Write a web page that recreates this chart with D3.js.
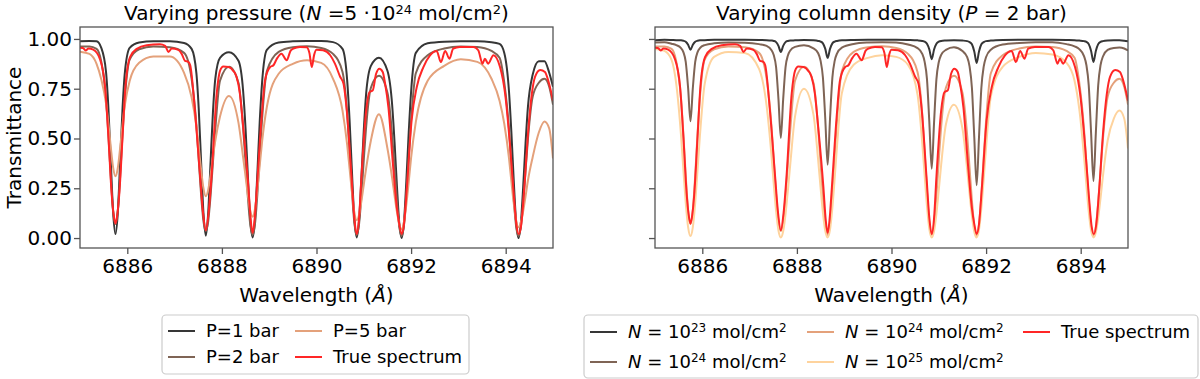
<!DOCTYPE html>
<html>
<head>
<meta charset="utf-8">
<script src="https://cdn.jsdelivr.net/npm/d3@7"></script>
<style>
  body { margin: 0; background: #fff; }
  svg text { font-family: "DejaVu Sans", sans-serif; fill: #000; white-space: pre; }
</style>
</head>
<body>
<svg id="fig" width="1200" height="379"></svg>
<script>
// wavelength grid (Angstrom) shared by the model curves
const wl = [6885.00, 6885.20, 6885.35, 6885.45, 6885.55, 6885.60, 6885.65, 6885.70, 6885.75, 6885.80,
  6885.85, 6885.90, 6885.95, 6886.05, 6886.25, 6886.55, 6886.90, 6887.20, 6887.36, 6887.46,
  6887.51, 6887.56, 6887.61, 6887.66, 6887.71, 6887.76, 6887.81, 6887.86, 6887.96, 6888.15,
  6888.35, 6888.45, 6888.50, 6888.55, 6888.60, 6888.65, 6888.70, 6888.75, 6888.80, 6888.85,
  6888.95, 6889.20, 6889.50, 6889.80, 6890.10, 6890.35, 6890.55, 6890.65, 6890.70, 6890.75,
  6890.80, 6890.85, 6890.90, 6890.95, 6891.00, 6891.05, 6891.15, 6891.32, 6891.50, 6891.60,
  6891.65, 6891.70, 6891.75, 6891.80, 6891.85, 6891.90, 6891.95, 6892.00, 6892.10, 6892.35,
  6892.70, 6893.05, 6893.40, 6893.70, 6893.87, 6893.97, 6894.07, 6894.12, 6894.17, 6894.22,
  6894.27, 6894.32, 6894.37, 6894.42, 6894.47, 6894.57, 6894.70, 6894.82, 6894.92, 6895.00];

// P = 1 bar (N = 5e24)
const tP1 = [0.988, 0.990, 0.988, 0.955, 0.835, 0.655, 0.390, 0.130, 0.020, 0.130,
  0.390, 0.655, 0.835, 0.955, 0.982, 0.988, 0.988, 0.980, 0.950, 0.830,
  0.650, 0.385, 0.125, 0.012, 0.125, 0.380, 0.630, 0.800, 0.905, 0.933,
  0.890, 0.735, 0.550, 0.307, 0.090, 0.003, 0.095, 0.328, 0.586, 0.783,
  0.945, 0.982, 0.988, 0.990, 0.990, 0.984, 0.950, 0.787, 0.589, 0.330,
  0.098, 0.003, 0.090, 0.304, 0.544, 0.727, 0.865, 0.906, 0.840, 0.667,
  0.482, 0.262, 0.075, 0.000, 0.082, 0.289, 0.532, 0.735, 0.930, 0.978,
  0.986, 0.988, 0.988, 0.984, 0.975, 0.930, 0.735, 0.532, 0.289, 0.082,
  0.000, 0.074, 0.259, 0.477, 0.659, 0.820, 0.888, 0.888, 0.830, 0.760];

// P = 2 bar, N = 5e24 (same curve in both panels)
const tP2 = [0.962, 0.962, 0.950, 0.886, 0.700, 0.521, 0.312, 0.138, 0.070, 0.139,
  0.314, 0.526, 0.708, 0.896, 0.948, 0.962, 0.958, 0.930, 0.800, 0.569,
  0.396, 0.219, 0.085, 0.035, 0.083, 0.211, 0.379, 0.544, 0.790, 0.860,
  0.780, 0.549, 0.379, 0.203, 0.067, 0.015, 0.072, 0.221, 0.414, 0.600,
  0.838, 0.935, 0.958, 0.963, 0.955, 0.925, 0.834, 0.621, 0.437, 0.236,
  0.077, 0.015, 0.071, 0.214, 0.394, 0.560, 0.755, 0.815, 0.730, 0.515,
  0.354, 0.188, 0.059, 0.010, 0.066, 0.215, 0.407, 0.591, 0.828, 0.918,
  0.952, 0.962, 0.960, 0.940, 0.905, 0.780, 0.547, 0.373, 0.195, 0.060,
  0.010, 0.056, 0.178, 0.339, 0.497, 0.709, 0.780, 0.800, 0.760, 0.670];

// P = 5 bar
const tP5 = [0.936, 0.925, 0.875, 0.797, 0.676, 0.577, 0.459, 0.355, 0.310, 0.353,
  0.456, 0.572, 0.670, 0.789, 0.880, 0.912, 0.912, 0.830, 0.706, 0.562,
  0.458, 0.344, 0.250, 0.210, 0.242, 0.316, 0.406, 0.488, 0.610, 0.714,
  0.580, 0.403, 0.310, 0.216, 0.138, 0.107, 0.147, 0.246, 0.365, 0.484,
  0.658, 0.825, 0.875, 0.893, 0.880, 0.800, 0.640, 0.465, 0.347, 0.228,
  0.130, 0.090, 0.117, 0.186, 0.269, 0.351, 0.490, 0.622, 0.450, 0.300,
  0.214, 0.133, 0.071, 0.044, 0.082, 0.169, 0.282, 0.403, 0.583, 0.790,
  0.865, 0.898, 0.885, 0.800, 0.690, 0.574, 0.400, 0.284, 0.175, 0.090,
  0.054, 0.079, 0.136, 0.210, 0.289, 0.406, 0.530, 0.585, 0.550, 0.400];

// N = 1e23 (P = 2 bar)
const tN23 = [0.994, 0.996, 0.995, 0.994, 0.993, 0.991, 0.986, 0.971, 0.946, 0.971,
  0.986, 0.991, 0.993, 0.994, 0.996, 0.996, 0.996, 0.995, 0.994, 0.992,
  0.990, 0.984, 0.965, 0.935, 0.965, 0.984, 0.990, 0.992, 0.993, 0.995,
  0.993, 0.990, 0.987, 0.978, 0.950, 0.905, 0.950, 0.978, 0.987, 0.990,
  0.993, 0.995, 0.996, 0.996, 0.996, 0.995, 0.993, 0.990, 0.986, 0.976,
  0.947, 0.898, 0.947, 0.976, 0.986, 0.990, 0.992, 0.994, 0.992, 0.989,
  0.984, 0.973, 0.937, 0.879, 0.937, 0.973, 0.984, 0.989, 0.992, 0.995,
  0.996, 0.996, 0.996, 0.995, 0.994, 0.992, 0.989, 0.985, 0.974, 0.940,
  0.884, 0.940, 0.974, 0.985, 0.989, 0.992, 0.993, 0.993, 0.991, 0.988];

// N = 1e24 (P = 2 bar)
const tN24 = [0.982, 0.984, 0.976, 0.969, 0.954, 0.934, 0.885, 0.754, 0.586, 0.754,
  0.885, 0.934, 0.954, 0.969, 0.978, 0.982, 0.981, 0.974, 0.965, 0.945,
  0.919, 0.859, 0.698, 0.503, 0.698, 0.859, 0.917, 0.942, 0.960, 0.968,
  0.953, 0.928, 0.891, 0.806, 0.598, 0.368, 0.598, 0.806, 0.891, 0.928,
  0.956, 0.975, 0.982, 0.984, 0.982, 0.972, 0.954, 0.925, 0.886, 0.798,
  0.581, 0.348, 0.581, 0.798, 0.884, 0.920, 0.945, 0.958, 0.939, 0.909,
  0.862, 0.755, 0.507, 0.265, 0.507, 0.755, 0.862, 0.909, 0.946, 0.972,
  0.980, 0.984, 0.984, 0.974, 0.963, 0.949, 0.914, 0.869, 0.767, 0.527,
  0.286, 0.527, 0.767, 0.869, 0.912, 0.945, 0.955, 0.957, 0.952, 0.942];

// N = 1e25 (P = 2 bar)
const tN25 = [0.950, 0.940, 0.895, 0.773, 0.515, 0.343, 0.177, 0.055, 0.010, 0.055,
  0.177, 0.343, 0.515, 0.773, 0.910, 0.935, 0.930, 0.850, 0.664, 0.421,
  0.273, 0.136, 0.038, 0.003, 0.034, 0.120, 0.241, 0.371, 0.610, 0.750,
  0.620, 0.390, 0.254, 0.128, 0.036, 0.003, 0.042, 0.153, 0.304, 0.468,
  0.727, 0.870, 0.905, 0.918, 0.910, 0.870, 0.721, 0.478, 0.317, 0.160,
  0.045, 0.003, 0.035, 0.123, 0.243, 0.368, 0.570, 0.670, 0.550, 0.343,
  0.224, 0.113, 0.032, 0.003, 0.042, 0.150, 0.298, 0.457, 0.711, 0.860,
  0.910, 0.930, 0.922, 0.880, 0.790, 0.648, 0.410, 0.267, 0.132, 0.037,
  0.003, 0.029, 0.101, 0.202, 0.311, 0.490, 0.600, 0.640, 0.600, 0.450];

// true (observed) spectrum, own sampling
const trueWl = [6885.00, 6885.06, 6885.12, 6885.18, 6885.28, 6885.42, 6885.53, 6885.60, 6885.67, 6885.71,
  6885.75, 6885.79, 6885.83, 6885.90, 6885.96, 6886.06, 6886.20, 6886.41, 6886.69, 6886.80,
  6886.87, 6886.94, 6887.08, 6887.15, 6887.22, 6887.29, 6887.33, 6887.43, 6887.54, 6887.60,
  6887.66, 6887.72, 6887.78, 6887.89, 6887.96, 6888.03, 6888.14, 6888.24, 6888.31, 6888.38,
  6888.45, 6888.56, 6888.61, 6888.65, 6888.69, 6888.74, 6888.84, 6888.91, 6889.02, 6889.09,
  6889.16, 6889.26, 6889.37, 6889.45, 6889.51, 6889.65, 6889.79, 6889.85, 6889.90, 6889.95,
  6890.00, 6890.14, 6890.29, 6890.39, 6890.50, 6890.57, 6890.64, 6890.74, 6890.80, 6890.85,
  6890.90, 6890.95, 6891.05, 6891.12, 6891.19, 6891.26, 6891.33, 6891.40, 6891.45, 6891.52,
  6891.62, 6891.70, 6891.75, 6891.80, 6891.85, 6891.91, 6892.01, 6892.12, 6892.26, 6892.40,
  6892.54, 6892.63, 6892.72, 6892.81, 6892.89, 6893.03, 6893.32, 6893.42, 6893.51, 6893.56,
  6893.63, 6893.74, 6893.88, 6893.99, 6894.09, 6894.17, 6894.23, 6894.28, 6894.33, 6894.39,
  6894.47, 6894.55, 6894.62, 6894.73, 6894.83, 6894.90, 6895.00];
const trueT = [0.956, 0.955, 0.942, 0.952, 0.946, 0.900, 0.760, 0.510, 0.220, 0.120,
  0.072, 0.120, 0.220, 0.510, 0.760, 0.910, 0.950, 0.968, 0.973, 0.965,
  0.935, 0.952, 0.945, 0.925, 0.890, 0.885, 0.868, 0.640, 0.307, 0.130,
  0.039, 0.130, 0.307, 0.725, 0.840, 0.862, 0.859, 0.840, 0.810, 0.725,
  0.558, 0.256, 0.090, 0.025, 0.090, 0.256, 0.608, 0.790, 0.859, 0.868,
  0.900, 0.926, 0.893, 0.940, 0.951, 0.960, 0.958, 0.930, 0.859, 0.920,
  0.946, 0.943, 0.918, 0.876, 0.810, 0.776, 0.641, 0.307, 0.100, 0.020,
  0.100, 0.307, 0.640, 0.733, 0.742, 0.825, 0.850, 0.834, 0.776, 0.658,
  0.360, 0.150, 0.070, 0.020, 0.070, 0.250, 0.590, 0.759, 0.859, 0.918,
  0.940, 0.884, 0.940, 0.901, 0.951, 0.960, 0.960, 0.943, 0.876, 0.900,
  0.876, 0.918, 0.859, 0.720, 0.470, 0.220, 0.060, 0.020, 0.070, 0.240,
  0.520, 0.720, 0.810, 0.844, 0.834, 0.790, 0.690];

const xTicks = [6886, 6888, 6890, 6892, 6894];
const yTicks = [0, 0.25, 0.5, 0.75, 1.0];

const col = { p1: '#363636', p2: '#7f6455', p5: '#e4a17b', n25: '#fed39d', tru: '#ff2626' };

const leftSeries = [
  { y: tP1, c: col.p1 }, { y: tP2, c: col.p2 }, { y: tP5, c: col.p5 }];
const rightSeries = [
  { y: tN23, c: col.p1 }, { y: tN24, c: col.p2 }, { y: tP2, c: col.p5 }, { y: tN25, c: col.n25 }];

const leftTitle = [{ t: 'Varying pressure (' }, { t: 'N', i: 1 }, { t: ' =5 \u00b710' }, { t: '24', s: 1 },
  { t: ' mol/cm' }, { t: '2', s: 1 }, { t: ')' }];
const rightTitle = [{ t: 'Varying column density (' }, { t: 'P', i: 1 }, { t: ' = 2 bar)' }];

const leftLegend = [
  { lab: [{ t: 'P=1 bar' }], c: col.p1 }, { lab: [{ t: 'P=2 bar' }], c: col.p2 },
  { lab: [{ t: 'P=5 bar' }], c: col.p5 }, { lab: [{ t: 'True spectrum' }], c: col.tru }];
const nLab = (e) => [{ t: 'N', i: 1 }, { t: ' = 10' }, { t: e, s: 1 }, { t: ' mol/cm' }, { t: '2', s: 1 }];
const rightLegend = [
  { lab: nLab('23'), c: col.p1 }, { lab: nLab('24'), c: col.p2 },
  { lab: nLab('24'), c: col.p5 }, { lab: nLab('25'), c: col.n25 },
  { lab: [{ t: 'True spectrum' }], c: col.tru }];

const svg = d3.select('#fig');
const yTop = 27, yBot = 248;
const y = d3.scaleLinear().domain([-0.05, 1.06]).range([yBot, yTop]);

function rich (sel, parts, fs) {
  let shift = 0;
  parts.forEach(function (p) {
    const ts = sel.append('tspan').text(p.t);
    const target = p.s ? -Math.round(fs * 0.32) : 0;
    if (target !== shift) { ts.attr('dy', target - shift); shift = target; }
    if (p.s) ts.attr('font-size', Math.round(fs * 0.66));
    if (p.i) ts.attr('font-style', 'italic');
  });
}

function drawPanel (x0, x1, series, title, showLabels, id) {
  const x = d3.scaleLinear().domain([6885, 6895]).range([x0, x1]);
  svg.append('clipPath').attr('id', id).append('rect')
    .attr('x', x0).attr('y', yTop).attr('width', x1 - x0).attr('height', yBot - yTop);
  const g = svg.append('g').attr('clip-path', 'url(#' + id + ')');
  const line = d3.line().curve(d3.curveMonotoneX);
  series.forEach(function (s) {
    g.append('path')
      .attr('d', line(wl.map((w, i) => [x(w), y(s.y[i])])))
      .attr('fill', 'none').attr('stroke', s.c).attr('stroke-width', 2);
  });
  g.append('path')
    .attr('d', line(trueWl.map((w, i) => [x(w), y(trueT[i])])))
    .attr('fill', 'none').attr('stroke', col.tru).attr('stroke-width', 2);

  // frame
  svg.append('rect').attr('x', x0).attr('y', yTop).attr('width', x1 - x0).attr('height', yBot - yTop)
    .attr('fill', 'none').attr('stroke', '#555').attr('stroke-width', 1.3);

  const ax = svg.append('g').attr('transform', 'translate(0,' + yBot + ')')
    .call(d3.axisBottom(x).tickValues(xTicks).tickSize(6).tickPadding(5).tickFormat(d3.format('d')));
  const ay = svg.append('g').attr('transform', 'translate(' + x0 + ',0)')
    .call(d3.axisLeft(y).tickValues(yTicks).tickSize(6).tickPadding(2)
      .tickFormat(showLabels ? d3.format('.2f') : () => ''));
  [ax, ay].forEach(function (a) {
    a.select('.domain').remove();
    a.selectAll('line').attr('stroke', '#555').attr('stroke-width', 1.3);
    a.selectAll('text').attr('font-size', 20).attr('font-family', '"DejaVu Sans", sans-serif').attr('fill', '#000');
  });

  const tt = svg.append('text').attr('x', (x0 + x1) / 2).attr('y', 20)
    .attr('text-anchor', 'middle').attr('font-size', 20);
  rich(tt, title, 20);

  const xl = svg.append('text').attr('x', (x0 + x1) / 2).attr('y', 301.5)
    .attr('text-anchor', 'middle').attr('font-size', 20);
  rich(xl, [{ t: 'Wavelength (' }, { t: '\u00c5', i: 1 }, { t: ')' }], 20);
}

function drawLegend (bx, by, bw, bh, items, rows, cols, fs) {
  svg.append('rect').attr('x', bx).attr('y', by).attr('width', bw).attr('height', bh)
    .attr('rx', 4).attr('fill', '#fff').attr('stroke', '#cccccc').attr('stroke-width', 1.2);
  items.forEach(function (it, k) {
    const c = Math.floor(k / 2), r = k % 2;
    const cx = cols[c], cy = rows[r];
    svg.append('line').attr('x1', cx).attr('x2', cx + 27).attr('y1', cy).attr('y2', cy)
      .attr('stroke', it.c).attr('stroke-width', 2);
    const t = svg.append('text').attr('x', cx + 38).attr('y', cy + fs * 0.36).attr('font-size', fs);
    rich(t, it.lab, fs);
  });
}

drawPanel(80, 553, leftSeries, leftTitle, true, 'clipL');
drawPanel(655, 1128, rightSeries, rightTitle, false, 'clipR');

svg.append('text').attr('transform', 'translate(21,137.5) rotate(-90)')
  .attr('text-anchor', 'middle').attr('font-size', 20).text('Transmittance');

drawLegend(162, 315, 307, 59, leftLegend, [331, 357], [168, 295], 18);
drawLegend(584, 315, 614, 63, rightLegend, [332, 362], [590, 807, 1023], 18);
</script>
</body>
</html>
